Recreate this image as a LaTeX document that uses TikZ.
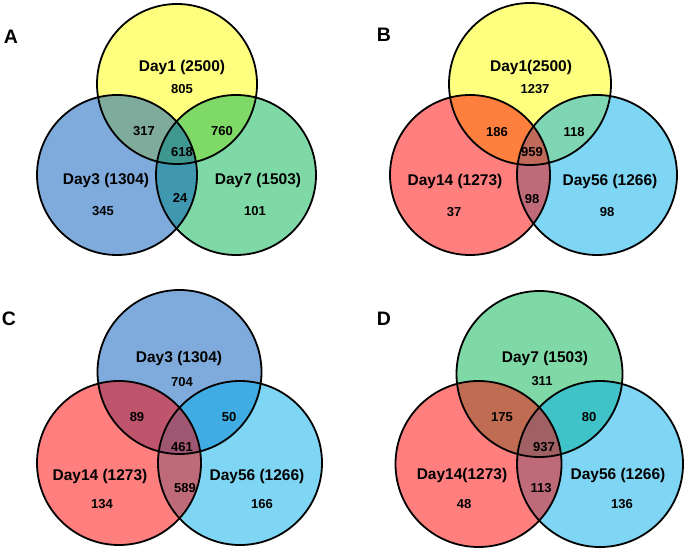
\documentclass[tikz,border=0pt]{standalone}
\usepackage{fontspec}
\setmainfont{Liberation Sans}
\definecolor{cyel}{RGB}{255,255,0}
\definecolor{cblu}{RGB}{0,88,186}
\definecolor{cgrn}{RGB}{0,180,80}
\definecolor{cred}{RGB}{255,0,0}
\definecolor{clbl}{RGB}{0,175,235}
\begin{document}
\begin{tikzpicture}[x=1pt,y=-1pt,
  setfill/.style={fill=#1,fill opacity=0.5,draw=none},
  ring/.style={draw=black,line width=1.8pt},
  lab/.style={inner sep=0pt,font=\fontsize{15.5}{18}\selectfont\bfseries},
  num/.style={inner sep=0pt,font=\fontsize{13}{15}\selectfont\bfseries},
  panel/.style={inner sep=0pt,font=\fontsize{19.5}{22}\selectfont\bfseries}]
\useasboundingbox[fill=white] (0,0) rectangle (685,553);

% ---------- Panel A ----------
\fill[setfill=cyel] (177,84) circle[radius=80];
\fill[setfill=cgrn] (236,175) circle[radius=80];
\fill[setfill=cblu] (117,175) circle[radius=80];
\draw[ring] (177,84) circle[radius=80];
\draw[ring] (117,175) circle[radius=80];
\draw[ring] (236,175) circle[radius=80];
\node[panel] (pA) at (11,37) {A};
\node[lab] (a1) at (182,67) {Day1 (2500)};
\node[num] (a2) at (182,89) {805};
\node[num] (a3) at (144,131) {317};
\node[num] (a4) at (222,131) {760};
\node[num] (a5) at (182,152) {618};
\node[lab] (a6) at (106,180) {Day3 (1304)};
\node[num] (a7) at (180,198) {24};
\node[lab] (a8) at (258,180) {Day7 (1503)};
\node[num] (a9) at (103,211) {345};
\node[num] (a10) at (255,211) {101};

% ---------- Panel B ----------
\fill[setfill=cyel] (530,84) circle[radius=81];
\fill[setfill=clbl] (597,175) circle[radius=80];
\fill[setfill=cred] (470,175) circle[radius=80];
\draw[ring] (530,84) circle[radius=81];
\draw[ring] (470,175) circle[radius=80];
\draw[ring] (597,175) circle[radius=80];
\node[panel] (pB) at (384,35) {B};
\node[lab] (b1) at (531,67) {Day1(2500)};
\node[num] (b2) at (535,89) {1237};
\node[num] (b3) at (497,132) {186};
\node[num] (b4) at (574,132) {118};
\node[num] (b5) at (532,152) {959};
\node[lab] (b6) at (455,181) {Day14 (1273)};
\node[num] (b7) at (532,199) {98};
\node[lab] (b8) at (610,181) {Day56 (1266)};
\node[num] (b9) at (454,212) {37};
\node[num] (b10) at (607,212) {98};

% ---------- Panel C ----------
\fill[setfill=cblu] (179.5,372) circle[radius=82];
\fill[setfill=clbl] (240,463) circle[radius=82];
\fill[setfill=cred] (119,463) circle[radius=82];
\draw[ring] (179.5,372) circle[radius=82];
\draw[ring] (119,463) circle[radius=82];
\draw[ring] (240,463) circle[radius=82];
\node[panel] (pC) at (9,319) {C};
\node[lab] (c1) at (179,358) {Day3 (1304)};
\node[num] (c2) at (182,382) {704};
\node[num] (c3) at (137,417) {89};
\node[num] (c4) at (229,417) {50};
\node[num] (c5) at (182,447) {461};
\node[lab] (c6) at (100,476) {Day14 (1273)};
\node[num] (c7) at (185,488) {589};
\node[lab] (c8) at (257,476) {Day56 (1266)};
\node[num] (c9) at (102,504) {134};
\node[num] (c10) at (262,504) {166};

% ---------- Panel D ----------
\fill[setfill=cgrn] (539.5,374) circle[radius=83];
\fill[setfill=clbl] (600,464) circle[radius=83];
\fill[setfill=cred] (478.5,464) circle[radius=83];
\draw[ring] (539.5,374) circle[radius=83];
\draw[ring] (478.5,464) circle[radius=83];
\draw[ring] (600,464) circle[radius=83];
\node[panel] (pD) at (384,319) {D};
\node[lab] (d1) at (545,358) {Day7 (1503)};
\node[num] (d2) at (542,381) {311};
\node[num] (d3) at (502,417) {175};
\node[num] (d4) at (589,417) {80};
\node[num] (d5) at (544,447) {937};
\node[lab] (d6) at (462,475) {Day14(1273)};
\node[num] (d7) at (541,488) {113};
\node[lab] (d8) at (618,475) {Day56 (1266)};
\node[num] (d9) at (464,504) {48};
\node[num] (d10) at (622,504) {136};
\end{tikzpicture}
\end{document}
